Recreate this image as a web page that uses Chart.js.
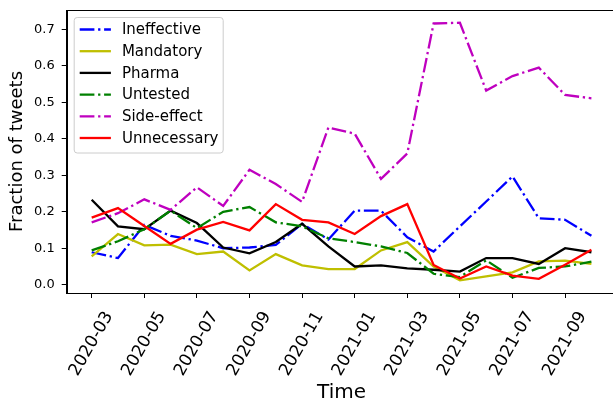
<!DOCTYPE html>
<html>
<head>
<meta charset="utf-8">
<script src="https://cdn.jsdelivr.net/npm/chart.js@4.4.1/dist/chart.umd.min.js"></script>
<style>
  html, body { margin: 0; padding: 0; overflow: hidden; background: #fff; }
  #wrap { width: 620px; height: 402px; }
</style>
</head>
<body>
<div id="wrap"><canvas id="chart" width="620" height="402"></canvas></div>
<script>
const months = ['2020-03', '2020-04', '2020-05', '2020-06', '2020-07', '2020-08', '2020-09', '2020-10',
    '2020-11', '2020-12', '2021-01', '2021-02', '2021-03', '2021-04', '2021-05', '2021-06',
    '2021-07', '2021-08', '2021-09', '2021-10'];
const xTickIndex = [0, 2, 4, 6, 8, 10, 12, 14, 16, 18];
const yTicks = [0.0, 0.1, 0.2, 0.3, 0.4, 0.5, 0.6, 0.7];

const ineffective = [0.089, 0.073, 0.164, 0.134, 0.121, 0.100, 0.102, 0.109, 0.167, 0.124,
    0.203, 0.203, 0.130, 0.091, 0.160, 0.228, 0.297, 0.182, 0.178, 0.134];
const mandatory = [0.078, 0.139, 0.108, 0.110, 0.084, 0.091, 0.039, 0.084, 0.053, 0.043,
    0.043, 0.094, 0.117, 0.050, 0.012, 0.023, 0.034, 0.064, 0.066, 0.057];
const pharma = [0.233, 0.160, 0.152, 0.203, 0.169, 0.102, 0.086, 0.117, 0.167, 0.105,
    0.050, 0.053, 0.045, 0.041, 0.036, 0.073, 0.073, 0.057, 0.100, 0.089];
const untested = [0.094, 0.119, 0.152, 0.203, 0.155, 0.200, 0.213, 0.171, 0.160, 0.127,
    0.117, 0.105, 0.087, 0.030, 0.021, 0.067, 0.019, 0.046, 0.050, 0.063];
const sideEffect = [0.171, 0.196, 0.234, 0.205, 0.267, 0.216, 0.315, 0.276, 0.227, 0.431,
    0.414, 0.290, 0.360, 0.716, 0.718, 0.532, 0.572, 0.595, 0.520, 0.511];
const unnecessary = [0.184, 0.210, 0.161, 0.112, 0.151, 0.172, 0.149, 0.221, 0.178, 0.171,
    0.139, 0.188, 0.221, 0.054, 0.017, 0.050, 0.025, 0.016, 0.055, 0.096];

const dashDot = [14.7, 3.7, 2.3, 3.7];

const series = [
    { label: 'Ineffective', values: ineffective, color: '#0000ff', dash: dashDot },
    { label: 'Mandatory', values: mandatory, color: '#bfbf00', dash: [] },
    { label: 'Pharma', values: pharma, color: '#000000', dash: [] },
    { label: 'Untested', values: untested, color: '#008000', dash: dashDot },
    { label: 'Side-effect', values: sideEffect, color: '#bf00bf', dash: dashDot },
    { label: 'Unnecessary', values: unnecessary, color: '#ff0000', dash: [] },
];

Chart.defaults.font.family = '"DejaVu Sans", sans-serif';
Chart.defaults.color = '#000';

// box around the plot, like matplotlib spines
const framePlugin = {
    id: 'frame',
    afterDatasetsDraw(chart) {
        const { ctx, chartArea: a } = chart;
        ctx.save();
        ctx.strokeStyle = '#000';
        ctx.lineWidth = 1;
        ctx.setLineDash([]);
        const l = Math.round(a.left) + 0.5, t = Math.round(a.top) + 0.5;
        const r = Math.round(a.right) + 0.5, b = Math.round(a.bottom) + 0.5;
        ctx.strokeRect(l, t, r - l, b - t);
        ctx.restore();
    }
};

// legend drawn inside the plot, upper left
const legendPlugin = {
    id: 'insideLegend',
    afterDraw(chart) {
        const { ctx, chartArea: a } = chart;
        const x0 = a.left + 7.5, y0 = a.top + 7.5, w = 149, h = 135.5;
        ctx.save();
        ctx.beginPath();
        ctx.roundRect(x0, y0, w, h, 3);
        ctx.fillStyle = 'rgba(255,255,255,0.8)';
        ctx.fill();
        ctx.strokeStyle = '#cccccc';
        ctx.lineWidth = 1;
        ctx.stroke();
        ctx.font = '15px "DejaVu Sans"';
        ctx.textBaseline = 'middle';
        chart.data.datasets.forEach((ds, i) => {
            const yy = y0 + 12 + i * 21.7;
            ctx.beginPath();
            ctx.setLineDash(ds.borderDash);
            ctx.strokeStyle = ds.borderColor;
            ctx.lineWidth = ds.borderWidth;
            ctx.moveTo(x0 + 5.5, yy);
            ctx.lineTo(x0 + 36.7, yy);
            ctx.stroke();
            ctx.setLineDash([]);
            ctx.fillStyle = '#000';
            ctx.fillText(ds.label, x0 + 47.7, yy + 1);
        });
        ctx.restore();
    }
};

const ctx = document.getElementById('chart').getContext('2d');
new Chart(ctx, {
    type: 'line',
    data: {
        datasets: series.map((s, i) => ({
            label: s.label,
            data: s.values.map((v, j) => ({ x: j, y: v })),
            borderColor: s.color,
            borderDash: s.dash,
            borderWidth: 2.3,
            pointRadius: 0,
            tension: 0,
            fill: false,
            order: series.length - i,
        })),
    },
    options: {
        responsive: false,
        animation: false,
        layout: { padding: { top: 10, right: 3.6, left: 0, bottom: 0 } },
        plugins: {
            legend: { display: false },
            tooltip: { enabled: false },
        },
        scales: {
            x: {
                type: 'linear',
                min: -0.95,
                max: 19.95,
                afterBuildTicks: (s) => { s.ticks = xTickIndex.map(v => ({ value: v })); },
                afterFit: (s) => { s.height = 109; },
                grid: { drawOnChartArea: false, drawTicks: true, tickLength: 5, color: '#000' },
                border: { display: true, color: '#000', width: 1 },
                ticks: {
                    autoSkip: false,
                    minRotation: 60,
                    maxRotation: 60,
                    padding: 10,
                    labelOffset: 17.5,
                    font: { size: 17 },
                    callback: (v) => months[v],
                },
                title: { display: true, text: 'Time', font: { size: 20, lineHeight: 0.9 }, padding: 0 },
            },
            y: {
                min: -0.0227,
                max: 0.753,
                afterBuildTicks: (s) => { s.ticks = yTicks.map(v => ({ value: v })); },
                afterFit: (s) => {
                    s.width = 66.7;
                    s.paddingTop = 0;
                    s.paddingBottom = 0;
                },
                grid: { drawOnChartArea: false, drawTicks: true, tickLength: 5, color: '#000' },
                border: { display: true, color: '#000', width: 1 },
                ticks: {
                    padding: 7,
                    font: { size: 13 },
                    callback: (v) => v.toFixed(1),
                },
                title: { display: true, text: 'Fraction of tweets', font: { size: 18 }, padding: { top: 7, bottom: 0 } },
            },
        },
    },
    plugins: [framePlugin, legendPlugin],
});
</script>
</body>
</html>
